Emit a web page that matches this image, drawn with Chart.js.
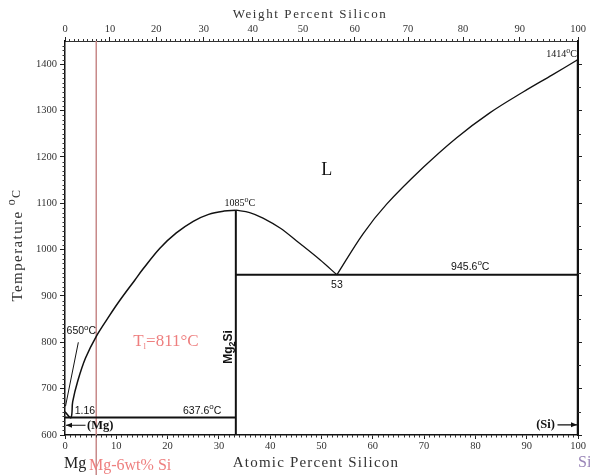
<!DOCTYPE html>
<html>
<head>
<meta charset="utf-8">
<script src="https://cdn.jsdelivr.net/npm/chart.js@4.4.1/dist/chart.umd.min.js"></script>
<style>
  html, body { margin: 0; padding: 0; background: #fff; }
  #wrap { width: 590px; height: 475px; position: relative; }
</style>
</head>
<body>
<div id="wrap"><canvas id="phase"></canvas></div>
<script>
const atomicTicks = [0, 10, 20, 30, 40, 50, 60, 70, 80, 90, 100];
const weightTicks = [0, 10, 20, 30, 40, 50, 60, 70, 80, 90, 100];
const tempTicks = [600, 700, 800, 900, 1000, 1100, 1200, 1300, 1400];

// liquidus lado Mg (at% Si / °C)
const mgLiquidusAt = [0, 1.16, 1.5, 2.5, 4.0, 6.1, 8.7, 10.6, 13.6, 15.2, 18.5, 21.7, 25.0, 28.0, 31.0, 33.3];
const mgLiquidusT = [650, 637.6, 672, 717, 766, 813, 858, 889, 934, 958, 1003, 1036, 1061, 1076, 1083, 1085];
// liquidus Mg2Si -> eutético 53 at%
const mg2siLiquidusAt = [33.3, 36.0, 38.6, 42.0, 45.1, 49.7, 53.0];
const mg2siLiquidusT = [1085, 1080, 1068, 1046, 1019, 978, 945.6];
// liquidus lado Si
const siLiquidusAt = [53.0, 58.1, 62.7, 69.8, 76.3, 82.8, 89.3, 95.0, 100];
const siLiquidusT = [945.6, 1034, 1098, 1177, 1241, 1295, 1340, 1377, 1410];

// linhas invariantes
const eutecticMgAt = [0, 33.3];
const eutecticMgT = 637.6;
const eutecticSiAt = [33.3, 100];
const eutecticSiT = 945.6;
const mg2siAt = 33.3;
const mg2siMeltT = 1085;
const siAt = 100;
const siMeltT = 1410;
const leaderAt = [2.6, 0.1];
const leaderT = [800, 662];
const alloyAt = 6.1;          // linha Mg-6wt% Si
const alloyT = [1450, 505];

const serif = '"Liberation Serif", "DejaVu Serif", serif';
const sans = '"Liberation Sans", "DejaVu Sans", sans-serif';

// conversão wt% -> at% para o eixo superior
function wtToAt(w) {
    if (w <= 0) return 0;
    if (w >= 100) return 100;
    const si = w / 28.086, mg = (100 - w) / 24.305;
    return si / (si + mg) * 100;
}

function pts(xs, ys) {
    return xs.map((x, i) => ({ x: x, y: ys[i] }));
}

function lineSet(data, width, extra) {
    return Object.assign({
        data: data,
        showLine: true,
        borderColor: '#111',
        borderWidth: width,
        pointRadius: 0,
        fill: false
    }, extra || {});
}

const datasets = [
    lineSet(pts(mgLiquidusAt, mgLiquidusT), 1.5, { tension: 0.35 }),
    lineSet(pts(mg2siLiquidusAt, mg2siLiquidusT), 1.3, { tension: 0.35 }),
    lineSet(pts(siLiquidusAt, siLiquidusT), 1.3, { tension: 0.35 }),
    lineSet(pts(eutecticMgAt, [eutecticMgT, eutecticMgT]), 2),
    lineSet(pts(eutecticSiAt, [eutecticSiT, eutecticSiT]), 2),
    lineSet(pts([mg2siAt, mg2siAt], [600, mg2siMeltT]), 2),
    lineSet(pts([siAt, siAt], [600, siMeltT]), 2.5),
    lineSet(pts(leaderAt, leaderT), 1),
    lineSet(pts([alloyAt, alloyAt], alloyT), 1, { borderColor: '#c88a8a', clip: false })
];

// --- marcas menores e anotações desenhadas sobre o gráfico ---
function drawParts(ctx, parts, x, y, align) {
    let total = 0;
    parts.forEach(p => { ctx.font = p.f; p.w = ctx.measureText(p.t).width; total += p.w; });
    let cx = align === 'center' ? x - total / 2 : (align === 'right' ? x - total : x);
    parts.forEach(p => {
        ctx.font = p.f;
        ctx.textAlign = 'left';
        ctx.fillText(p.t, cx, y + (p.dy || 0));
        cx += p.w;
    });
}

function degParts(num, size, fam) {
    return [
        { t: num, f: size + 'px ' + fam },
        { t: 'o', f: Math.round(size * 0.75) + 'px ' + fam, dy: -size * 0.45 },
        { t: 'C', f: size + 'px ' + fam }
    ];
}

const extrasPlugin = {
    id: 'extras',
    afterDraw(chart) {
        const ctx = chart.ctx;
        const a = chart.chartArea;
        const xs = chart.scales.x, ys = chart.scales.y;
        const px = v => xs.getPixelForValue(v);
        const py = v => ys.getPixelForValue(v);
        ctx.save();

        // marcas menores
        ctx.strokeStyle = '#333';
        ctx.lineWidth = 1;
        ctx.beginPath();
        for (let t = 610; t < 1450; t += 10) {
            if (t % 100 === 0) continue;
            ctx.moveTo(a.left - 2.5, Math.round(py(t)) + 0.5);
            ctx.lineTo(a.left, Math.round(py(t)) + 0.5);
        }
        for (let t = 650; t < 1450; t += 50) {
            if (t % 100 === 0) continue;
            ctx.moveTo(a.right, Math.round(py(t)) + 0.5);
            ctx.lineTo(a.right + 3, Math.round(py(t)) + 0.5);
        }
        for (let v = 1; v < 100; v++) {
            if (v % 10 === 0) continue;
            ctx.moveTo(Math.round(px(v)) + 0.5, a.bottom);
            ctx.lineTo(Math.round(px(v)) + 0.5, a.bottom + 2.5);
            ctx.moveTo(Math.round(px(wtToAt(v))) + 0.5, a.top);
            ctx.lineTo(Math.round(px(wtToAt(v))) + 0.5, a.top - 2);
        }
        ctx.stroke();

        ctx.textBaseline = 'alphabetic';

        // títulos dos eixos
        ctx.fillStyle = '#333';
        ctx.letterSpacing = '1.6px';
        ctx.font = '13px ' + serif;
        ctx.textAlign = 'center';
        ctx.fillText('Weight Percent Silicon', 310, 18);
        ctx.letterSpacing = '1.2px';
        ctx.font = '15px ' + serif;
        ctx.fillText('Atomic Percent Silicon', 316, 467);

        ctx.save();
        ctx.translate(22, 245);
        ctx.rotate(-Math.PI / 2);
        ctx.letterSpacing = '1.4px';
        drawParts(ctx, [
            { t: 'Temperature ', f: '15px ' + serif },
            { t: 'o', f: '12px ' + serif, dy: -7 },
            { t: 'C', f: '12px ' + serif, dy: -2 }
        ], 0, 0, 'center');
        ctx.restore();
        ctx.letterSpacing = '0px';

        // anotações
        ctx.fillStyle = '#111';
        ctx.font = '18px ' + serif;
        ctx.textAlign = 'center';
        ctx.fillText('L', px(51), py(1160));

        drawParts(ctx, degParts('1085', 10, serif), px(mg2siAt) + 4, py(mg2siMeltT) - 4, 'center');
        drawParts(ctx, degParts('1414', 10, serif), a.right - 1, py(1408) - 3, 'right');
        drawParts(ctx, degParts('945.6', 10.5, sans), px(79), py(eutecticSiT) - 5, 'center');
        drawParts(ctx, degParts('650', 10.5, sans), px(0.3), py(817), 'left');
        drawParts(ctx, degParts('637.6', 10.5, sans), px(23), py(eutecticMgT) - 4, 'left');

        ctx.font = '10.5px ' + sans;
        ctx.textAlign = 'center';
        ctx.fillText('53', px(53), py(eutecticSiT) + 13);
        ctx.textAlign = 'left';
        ctx.fillText('1.16', px(1.9), py(eutecticMgT) - 4);

        // Mg2Si vertical
        ctx.save();
        ctx.translate(px(mg2siAt) - 4, py(790));
        ctx.rotate(-Math.PI / 2);
        drawParts(ctx, [
            { t: 'Mg', f: 'bold 12px ' + sans },
            { t: '2', f: 'bold 9px ' + sans, dy: 3 },
            { t: 'Si', f: 'bold 12px ' + sans }
        ], 0, 0, 'center');
        ctx.restore();

        // (Mg) e (Si) com setas
        ctx.font = 'bold 12.5px ' + serif;
        ctx.textBaseline = 'middle';
        ctx.textAlign = 'left';
        ctx.fillText('(Mg)', px(4.3), py(619));
        ctx.textAlign = 'right';
        ctx.fillText('(Si)', px(95.5), py(622));
        ctx.strokeStyle = '#111';
        ctx.lineWidth = 1.2;
        ctx.beginPath();
        ctx.moveTo(px(4.0), py(621)); ctx.lineTo(a.left + 1, py(621));
        ctx.moveTo(px(96.0), py(622)); ctx.lineTo(a.right - 1, py(622));
        ctx.stroke();
        ctx.beginPath();
        ctx.moveTo(a.left + 1, py(621)); ctx.lineTo(a.left + 7, py(621) - 2.5); ctx.lineTo(a.left + 7, py(621) + 2.5);
        ctx.closePath();
        ctx.moveTo(a.right - 1, py(622)); ctx.lineTo(a.right - 7, py(622) - 2.5); ctx.lineTo(a.right - 7, py(622) + 2.5);
        ctx.closePath();
        ctx.fillStyle = '#111';
        ctx.fill();

        // legendas em rosa
        ctx.textBaseline = 'alphabetic';
        ctx.fillStyle = '#ee7f7f';
        drawParts(ctx, [
            { t: 'T', f: '17px ' + serif },
            { t: 'l', f: '9px ' + serif, dy: 3 },
            { t: '=811\u00B0C', f: '17px ' + serif }
        ], px(13.3), py(793), 'left');
        ctx.font = '16px ' + serif;
        ctx.textAlign = 'left';
        ctx.fillText('Mg-6wt% Si', 89, 470);

        ctx.fillStyle = '#222';
        ctx.fillText('Mg', 64, 468);
        ctx.fillStyle = '#9a86b8';
        ctx.fillText('Si', 578, 467);

        ctx.restore();
    }
};

const tickFont = { family: serif, size: 10.5 };

new Chart(document.getElementById('phase'), {
    type: 'scatter',
    data: { datasets: datasets },
    options: {
        responsive: true,
        maintainAspectRatio: false,
        animation: false,
        layout: { padding: 0 },
        plugins: {
            legend: { display: false },
            tooltip: { enabled: false }
        },
        scales: {
            x: {
                type: 'linear',
                position: 'bottom',
                min: 0,
                max: 100,
                afterBuildTicks: s => { s.ticks = atomicTicks.map(v => ({ value: v })); },
                afterFit: s => { s.height = 40; },
                ticks: { font: tickFont, color: '#333', padding: 1, maxRotation: 0, autoSkip: false, callback: v => String(v) },
                grid: { drawOnChartArea: false, tickLength: 4, color: '#222' },
                border: { color: '#111', width: 1.5 }
            },
            xTop: {
                type: 'linear',
                position: 'top',
                min: 0,
                max: 100,
                afterBuildTicks: s => { s.ticks = weightTicks.map(w => ({ value: wtToAt(w) })); },
                afterFit: s => { s.height = 41; },
                ticks: {
                    font: tickFont, color: '#333', padding: 1, maxRotation: 0, autoSkip: false,
                    callback: (v, i) => String(weightTicks[i])
                },
                grid: { drawOnChartArea: false, tickLength: 4, color: '#222' },
                border: { color: '#333', width: 1 }
            },
            y: {
                type: 'linear',
                position: 'left',
                min: 600,
                max: 1450,
                afterBuildTicks: s => { s.ticks = tempTicks.map(v => ({ value: v })); },
                afterFit: s => { s.width = 65; },
                ticks: { font: tickFont, color: '#333', padding: 3, callback: v => String(v) },
                grid: { drawOnChartArea: false, tickLength: 5, color: '#222' },
                border: { color: '#111', width: 1.5 }
            },
            yRight: {
                type: 'linear',
                position: 'right',
                min: 600,
                max: 1450,
                afterBuildTicks: s => { s.ticks = tempTicks.map(v => ({ value: v })); },
                afterFit: s => { s.width = 12; },
                ticks: { display: false },
                grid: { drawOnChartArea: false, tickLength: 4, color: '#222' },
                border: { color: '#111', width: 2 }
            }
        }
    },
    plugins: [extrasPlugin]
});
</script>
</body>
</html>
